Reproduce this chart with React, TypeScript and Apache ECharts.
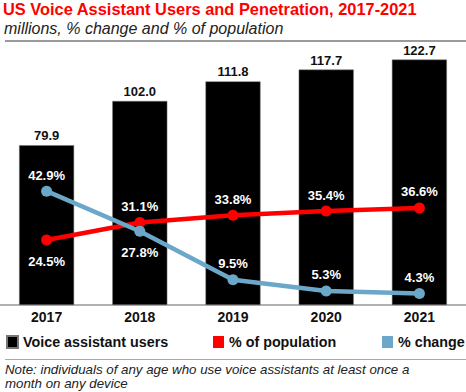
import React, { useEffect, useRef } from "react";
import * as echarts from "echarts";

const years = ["2017", "2018", "2019", "2020", "2021"];
const users = [79.9, 102.0, 111.8, 117.7, 122.7];
const popShare = [24.5, 31.1, 33.8, 35.4, 36.6];
const pctChange = [42.9, 27.8, 9.5, 5.3, 4.3];
const popLabelPos = ["bottom", "top", "top", "top", "top"];
const changeLabelPos = ["top", "bottom", "top", "top", "top"];

const FONT = "'Liberation Sans', Arial, Helvetica, sans-serif";
const RED = "#ff0000";
const BLUE = "#6aa7c8";

export default function App() {
  const ref = useRef<HTMLDivElement>(null);
  useEffect(() => {
    if (!ref.current) return;
    const chart = echarts.init(ref.current, undefined, { renderer: "svg" });
    const lineLabel = (v: number, pos: string) => ({
      value: v,
      label: {
        position: pos,
        distance: pos === "bottom" ? 9 : 4,
      },
    });
    const legendText = { fontFamily: FONT, fontSize: 14.3, fontWeight: "bold", color: "#111" };
    chart.setOption({
      animation: false,
      backgroundColor: "#ffffff",
      title: [
        {
          text: "US Voice Assistant Users and Penetration, 2017-2021",
          left: 3,
          top: 1,
          padding: 0,
          textStyle: { fontFamily: FONT, fontSize: 16.4, fontWeight: "bold", color: RED },
        },
        {
          text: "millions, % change and % of population",
          left: 4,
          top: 20,
          padding: 0,
          textStyle: { fontFamily: FONT, fontSize: 16, fontStyle: "italic", fontWeight: "normal", color: "#222" },
        },
        {
          text: "Note: individuals of any age who use voice assistants at least once a\nmonth on any device",
          left: 5,
          top: 362,
          padding: 0,
          textStyle: { fontFamily: FONT, fontSize: 13.3, fontStyle: "italic", fontWeight: "normal", color: "#222", lineHeight: 14 },
        },
      ],
      legend: [
        {
          data: ["Voice assistant users"],
          left: 6,
          top: 335,
          padding: 0,
          icon: "rect",
          itemWidth: 11,
          itemHeight: 12,
          textStyle: legendText,
        },
        {
          data: ["% of population"],
          left: 213,
          top: 335,
          padding: 0,
          icon: "rect",
          itemWidth: 11,
          itemHeight: 12,
          textStyle: legendText,
        },
        {
          data: ["% change"],
          left: 382,
          top: 335,
          padding: 0,
          icon: "rect",
          itemWidth: 11,
          itemHeight: 12,
          textStyle: legendText,
        },
      ],
      graphic: [
        { type: "line", shape: { x1: 5, y1: 41, x2: 466, y2: 41 }, style: { stroke: "#9a9a9a", lineWidth: 2 } },
        { type: "line", shape: { x1: 5, y1: 359.5, x2: 466, y2: 359.5 }, style: { stroke: "#aaaaaa", lineWidth: 1 } },
      ],
      grid: { left: -2.5, right: -6.5, top: 45, bottom: 87, containLabel: false },
      xAxis: {
        type: "category",
        data: years,
        axisLine: { show: true, lineStyle: { color: "#999", width: 1.5 } },
        axisTick: { show: false },
        axisLabel: { margin: 5, fontFamily: FONT, fontSize: 14, fontWeight: "bold", color: "#111" },
      },
      yAxis: [
        { type: "value", min: 0, max: 130, show: false, splitLine: { show: false } },
        { type: "value", min: 0, max: 98, show: false, splitLine: { show: false } },
      ],
      series: [
        {
          name: "Voice assistant users",
          type: "bar",
          data: users,
          barWidth: 55,
          yAxisIndex: 0,
          itemStyle: { color: "#000000", borderColor: "#777", borderWidth: 0.5 },
          label: {
            show: true,
            position: "top",
            distance: 3,
            formatter: (p: any) => Number(p.value).toFixed(1),
            fontFamily: FONT,
            fontSize: 13,
            fontWeight: "bold",
            color: "#111",
          },
        },
        {
          name: "% of population",
          type: "line",
          yAxisIndex: 1,
          data: popShare.map((v, i) => lineLabel(v, popLabelPos[i])),
          symbol: "circle",
          symbolSize: 11,
          lineStyle: { color: RED, width: 4.5 },
          itemStyle: { color: RED },
          label: {
            show: true,
            formatter: (p: any) => Number(p.value).toFixed(1) + "%",
            fontFamily: FONT,
            fontSize: 13,
            fontWeight: "bold",
            color: "#ffffff",
          },
          z: 3,
        },
        {
          name: "% change",
          type: "line",
          yAxisIndex: 1,
          data: pctChange.map((v, i) => lineLabel(v, changeLabelPos[i])),
          symbol: "circle",
          symbolSize: 11,
          lineStyle: { color: BLUE, width: 4.5 },
          itemStyle: { color: BLUE },
          label: {
            show: true,
            formatter: (p: any) => Number(p.value).toFixed(1) + "%",
            fontFamily: FONT,
            fontSize: 13,
            fontWeight: "bold",
            color: "#ffffff",
          },
          z: 4,
        },
      ],
    });
    return () => chart.dispose();
  }, []);
  return (
    <div
      ref={ref}
      style={{ position: "fixed", left: 0, top: 0, width: 466, height: 392 }}
    />
  );
}
